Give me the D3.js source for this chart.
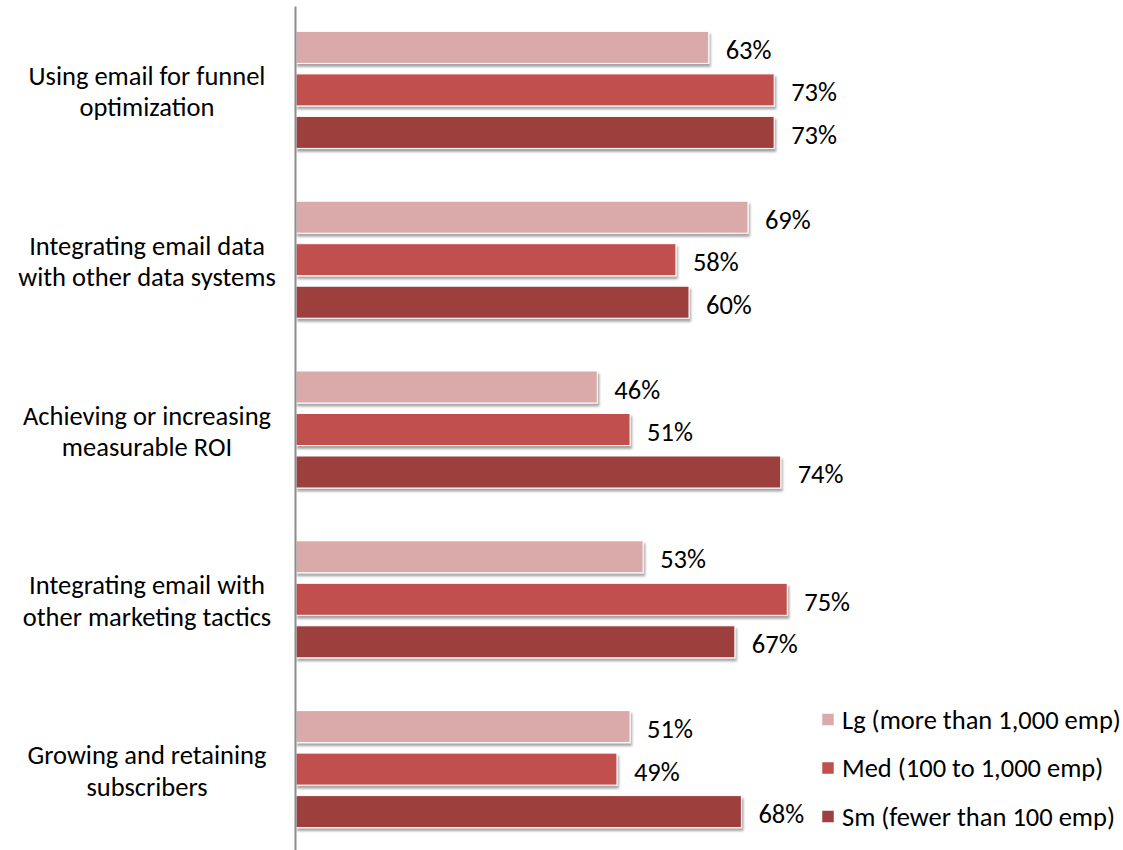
<!DOCTYPE html>
<html><head><meta charset="utf-8">
<script src="https://cdn.jsdelivr.net/npm/d3@7"></script>
<style>
html,body{margin:0;padding:0;background:#fff;}
text{font-family:Carlito,Lato,"Open Sans",sans-serif;fill:#000;}
</style></head>
<body>
<svg id="chart" width="1123" height="850"></svg>
<script>
const categories = [
  ["Using email for funnel", "optimization"],
  ["Integrating email data", "with other data systems"],
  ["Achieving or increasing", "measurable ROI"],
  ["Integrating email with", "other marketing tactics"],
  ["Growing and retaining", "subscribers"]
];
const seriesNames = ["Lg (more than 1,000 emp)", "Med (100 to 1,000 emp)", "Sm (fewer than 100 emp)"];
const lgValues  = [63, 69, 46, 53, 51];
const medValues = [73, 58, 51, 75, 49];
const smValues  = [73, 60, 74, 67, 68];
const colors = ["#DAAAAA", "#C0504D", "#9D403E"];

const series = [lgValues, medValues, smValues];
const svg = d3.select("#chart");
const FS = 26.5;

const defs = svg.append("defs");
const f = defs.append("filter").attr("id","shadow").attr("x","-5%").attr("y","-20%").attr("width","110%").attr("height","160%");
f.append("feDropShadow").attr("dx",1.5).attr("dy",3).attr("stdDeviation",1.3).attr("flood-color","#000").attr("flood-opacity",0.35);

const x = d3.scaleLinear().domain([0, 100]).range([296, 951]);
const y0 = d3.scaleBand().domain(d3.range(categories.length)).range([5, 854]);
const groupH = 117;
const y1 = d3.scaleBand().domain(d3.range(3)).range([0, groupH]).paddingInner(0.247).paddingOuter(0);
const groupOffset = (y0.bandwidth() - groupH) / 2;

const groups = svg.append("g").selectAll("g").data(categories).join("g")
  .attr("transform", (d, i) => `translate(0,${y0(i) + groupOffset})`);

groups.each(function(cat, ci) {
  const g = d3.select(this);
  series.forEach((vals, si) => {
    const v = vals[ci];
    g.append("rect")
      .attr("x", x(0))
      .attr("y", y1(si))
      .attr("width", x(v) - x(0))
      .attr("height", y1.bandwidth())
      .attr("fill", colors[si])
      .attr("stroke", "#fff")
      .attr("stroke-width", 1)
      .attr("filter", "url(#shadow)");
    g.append("text")
      .attr("x", x(v) + 17)
      .attr("y", y1(si) + y1.bandwidth() / 2 + 11.5)
      .attr("font-size", FS)
      .text(v + "%");
  });
});

// category labels
const labelX = 147;
const catG = svg.append("g").selectAll("text").data(categories).join("text")
  .attr("text-anchor", "middle")
  .attr("font-size", FS);
catG.each(function(lines, i) {
  const t = d3.select(this);
  const cy = y0(i) + y0.bandwidth() / 2;
  lines.forEach((ln, li) => {
    t.append("tspan").attr("x", labelX).attr("y", cy - 5 + li * 31.5).text(ln);
  });
});

// axis line
const yAxis = d3.axisLeft(d3.scaleLinear().range([6, 850])).ticks(0).tickSize(0).tickFormat("");
svg.append("g").attr("transform", `translate(${x(0) - 1},0)`).call(yAxis)
  .select(".domain").attr("stroke", "#8c8c8c").attr("stroke-width", 2);

// legend
const legend = svg.append("g").selectAll("g").data(seriesNames).join("g")
  .attr("transform", (d, i) => `translate(822,${719.5 + i * 48.5})`);
legend.append("rect").attr("x", 0).attr("y", -6).attr("width", 12).attr("height", 12)
  .attr("fill", (d, i) => colors[i]).attr("stroke", "#fff").attr("stroke-width", 0.5);
legend.append("text").attr("x", 20).attr("y", 9).attr("font-size", FS).text(d => d);
</script>
</body></html>
